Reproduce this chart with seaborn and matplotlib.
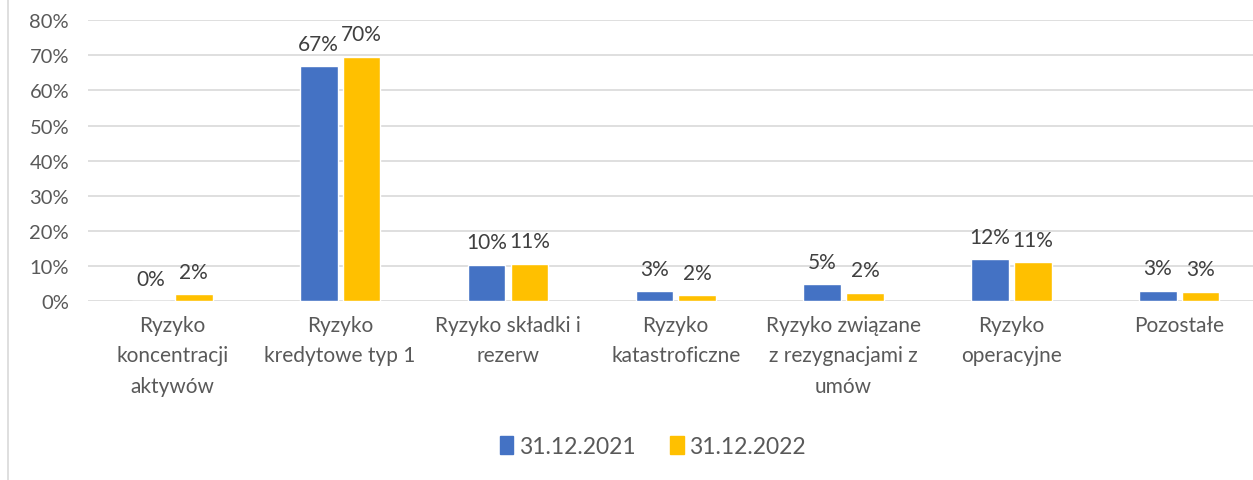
import pandas as pd
import seaborn as sns
import matplotlib.pyplot as plt
from matplotlib.lines import Line2D
from matplotlib.ticker import PercentFormatter

categories = [
    "Ryzyko\nkoncentracji\naktywów",
    "Ryzyko\nkredytowe typ 1",
    "Ryzyko składki i\nrezerw",
    "Ryzyko\nkatastroficzne",
    "Ryzyko związane\nz rezygnacjami z\numów",
    "Ryzyko\noperacyjne",
    "Pozostałe",
]
dates = ["31.12.2021", "31.12.2022"]
vals_2021 = [0.0, 0.669, 0.104, 0.028, 0.048, 0.119, 0.030]
vals_2022 = [0.019, 0.696, 0.106, 0.016, 0.023, 0.110, 0.027]

df = pd.DataFrame({
    "cat": categories * 2,
    "date": [dates[0]] * 7 + [dates[1]] * 7,
    "val": vals_2021 + vals_2022,
})

sns.set_style("white")
plt.rcParams["font.family"] = ["Lato", "DejaVu Sans"]

fig = plt.figure(figsize=(12.53, 4.81), dpi=100)
# plot area runs slightly past the right edge, as in the cropped original
ax = fig.add_axes([0.0706, 0.372, 0.9374, 0.584])

sns.barplot(data=df, x="cat", y="val", hue="date", hue_order=dates,
            palette=["#4472C4", "#FFC000"], width=0.51, gap=0.12,
            saturation=1, ax=ax, legend=True)

for cont in ax.containers:
    ax.bar_label(cont, fmt="{:.0%}", padding=9, fontsize=15, color="#404040")

ax.set_ylim(0, 0.8)
ax.set_yticks([i / 10 for i in range(9)])
ax.yaxis.set_major_formatter(PercentFormatter(1.0, decimals=0))
ax.grid(axis="y", color="#D9D9D9", linewidth=1.2)
ax.set_axisbelow(True)
for s in ax.spines.values():
    s.set_visible(False)
ax.set_xlabel("")
ax.set_ylabel("")
ax.tick_params(axis="y", labelsize=14.5, labelcolor="#595959", length=0, pad=14)
ax.tick_params(axis="x", labelsize=15, labelcolor="#595959", length=0, pad=10)
for t in ax.get_xticklabels():
    t.set_linespacing(1.65)
    t.set_va("top")

ax.legend_.remove()
handles = [plt.Rectangle((0, 0), 1, 1, color=c) for c in ["#4472C4", "#FFC000"]]
fig.legend(handles, dates, loc="center", bbox_to_anchor=(0.521, 0.07), ncol=2,
           frameon=False, fontsize=16.5, labelcolor="#595959",
           handlelength=0.6, handleheight=0.8, handletextpad=0.25, columnspacing=1.5)

fig.add_artist(Line2D([0.006, 0.006], [0, 1], transform=fig.transFigure,
                      color="#D9D9D9", linewidth=1.2))

fig.savefig("out.png", dpi=100)
